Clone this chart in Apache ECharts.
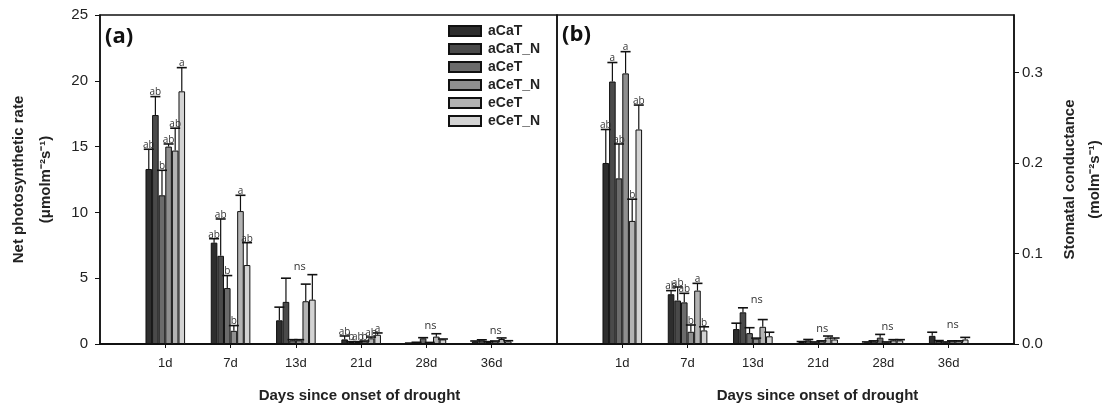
<!DOCTYPE html>
<html>
<head>
<meta charset="utf-8">
<script src="https://cdn.jsdelivr.net/npm/echarts@6/dist/echarts.min.js"></script>
<style>
  html, body { margin: 0; background: #fff; }
  #chart { width: 1114px; height: 408px; }
</style>
</head>
<body>
<div id="chart"></div>
<script>
// sampling days (category axis is padded with an empty slot on both ends)
const days = ['1d', '7d', '13d', '21d', '28d', '36d']
const cats = [''].concat(days, [' '])
const treatments = ['aCaT', 'aCaT_N', 'aCeT', 'aCeT_N', 'eCeT', 'eCeT_N']
const fills = ['#2e2e2e', '#4a4a4a', '#6b6b6b', '#8f8f8f', '#b3b3b3', '#d3d3d3']

// (a) net photosynthetic rate, rows = treatments, cols = days
const pnMean = [
  [13.3, 7.7, 1.8, 0.35, 0.05, 0.2],
  [17.4, 6.7, 3.2, 0.15, 0.1, 0.28],
  [11.3, 4.25, 0.28, 0.15, 0.43, 0.15],
  [15.0, 1.0, 0.28, 0.2, 0.1, 0.2],
  [14.7, 10.1, 3.25, 0.43, 0.56, 0.38],
  [19.2, 6.0, 3.37, 0.7, 0.35, 0.2]
]
const pnSE = [
  [1.5, 0.3, 1.0, 0.26, 0.02, 0.03],
  [1.4, 2.8, 1.8, 0.03, 0.03, 0.04],
  [1.9, 0.95, 0.05, 0.03, 0.05, 0.03],
  [0.2, 0.4, 0.05, 0.03, 0.02, 0.03],
  [1.7, 1.2, 1.3, 0.1, 0.22, 0.08],
  [1.8, 1.7, 1.9, 0.14, 0.03, 0.05]
]
// (b) stomatal conductance
const gsMean = [
  [0.200, 0.055, 0.0165, 0.0022, 0.0018, 0.009],
  [0.290, 0.048, 0.035, 0.004, 0.003, 0.0033],
  [0.183, 0.046, 0.012, 0.0018, 0.007, 0.0018],
  [0.299, 0.0135, 0.006, 0.003, 0.0018, 0.003],
  [0.136, 0.059, 0.019, 0.007, 0.004, 0.003],
  [0.237, 0.015, 0.0085, 0.005, 0.004, 0.005]
]
const gsSE = [
  [0.037, 0.004, 0.0065, 0.0005, 0.0005, 0.004],
  [0.021, 0.015, 0.005, 0.001, 0.0005, 0.0005],
  [0.038, 0.010, 0.006, 0.0005, 0.0036, 0.0005],
  [0.024, 0.0075, 0.0005, 0.0005, 0.0005, 0.0005],
  [0.024, 0.008, 0.008, 0.0018, 0.0008, 0.0005],
  [0.027, 0.004, 0.0045, 0.0016, 0.0008, 0.0023]
]
// significance letters per day ('ns' = one label for the whole group)
const pnLetters = [
  ['ab', 'ab', 'b', 'ab', 'ab', 'a'],
  ['ab', 'ab', 'b', 'b', 'a', 'ab'],
  'ns',
  ['ab', 'b', 'ab', 'b', 'ab', 'a'],
  'ns',
  'ns'
]
const gsLetters = [
  ['ab', 'a', 'ab', 'a', 'b', 'ab'],
  ['ab', 'ab', 'ab', 'b', 'a', 'b'],
  'ns', 'ns', 'ns', 'ns'
]

const BAR_W = 6.6
const txt = '#222'

const chart = echarts.init(document.getElementById('chart'), null, { renderer: 'canvas' })

// bars of one panel
const barSeries = (means, axis) => means.map((row, t) => ({
  name: treatments[t],
  type: 'bar',
  xAxisIndex: axis,
  yAxisIndex: axis,
  barWidth: BAR_W,
  barGap: '0%',
  itemStyle: { color: fills[t], borderColor: '#111', borderWidth: 1 },
  data: row.map((v, d) => [d + 1, v])
}))

// upper error bars + letters for one panel
const errSeries = (means, ses, letters, axis) => {
  const data = []
  const labels = []
  means.forEach((row, t) => row.forEach((v, d) => {
    data.push([d + 1, v, ses[t][d], t])
    labels.push(Array.isArray(letters[d]) ? letters[d][t] : '')
  }))
  return {
    type: 'custom',
    xAxisIndex: axis,
    yAxisIndex: axis,
    z: 3,
    silent: true,
    encode: { x: 0, y: 1 },
    data: data,
    renderItem: (params, api) => {
      const idx = api.value(0)
      const m = api.value(1)
      const base = api.coord([idx, m])
      const top = api.coord([idx, m + api.value(2)])
      const x = base[0] + (api.value(3) - 2.5) * BAR_W
      return {
        type: 'group',
        children: [
          { type: 'line', shape: { x1: x, y1: base[1], x2: x, y2: top[1] }, style: { stroke: '#111', lineWidth: 1.2 } },
          { type: 'line', shape: { x1: x - 5, y1: top[1], x2: x + 5, y2: top[1] }, style: { stroke: '#111', lineWidth: 1.6 } },
          { type: 'text', x: x, y: top[1] + 1, style: { text: labels[params.dataIndex], fill: '#333', font: '10px "Open Sans"', align: 'center', verticalAlign: 'bottom' } }
        ]
      }
    }
  }
}

// 'ns' labels above whole groups
const nsSeries = (means, ses, letters, axis) => {
  const data = []
  letters.forEach((l, d) => {
    if (l === 'ns') data.push([d + 1, Math.max(...means.map((row, t) => row[d] + ses[t][d]))])
  })
  return {
    type: 'custom',
    xAxisIndex: axis,
    yAxisIndex: axis,
    z: 3,
    silent: true,
    encode: { x: 0, y: 1 },
    data: data,
    renderItem: (params, api) => {
      const p = api.coord([api.value(0), api.value(1)])
      return { type: 'text', x: p[0] + 4, y: p[1] - 2, style: { text: 'ns', fill: '#333', font: '11px "Open Sans"', align: 'center', verticalAlign: 'bottom' } }
    }
  }
}

const xAxisBase = (idx, pad) => ({
  type: 'category',
  gridIndex: idx,
  data: cats,
  boundaryGap: false,
  axisLine: { lineStyle: { color: '#111', width: 2 } },
  axisTick: { length: 4, interval: (i) => i > 0 && i < cats.length - 1, lineStyle: { color: '#111' } },
  axisLabel: { interval: 0, margin: 13, fontSize: 13, color: txt, fontFamily: 'Liberation Sans' },
  splitLine: { show: false },
  name: 'Days since onset of drought',
  nameLocation: 'middle',
  nameGap: 44,
  nameTextStyle: { fontWeight: 'bold', fontSize: 15, color: txt, fontFamily: 'Liberation Sans', padding: [0, 0, 0, pad] }
})

const option = {
  animation: false,
  backgroundColor: '#fff',
  grid: [
    { left: 100, top: 15, width: 457, height: 329, show: true, borderColor: '#111', borderWidth: 1.5 },
    { left: 557, top: 15, width: 457, height: 329, show: true, borderColor: '#111', borderWidth: 1.5 }
  ],
  legend: {
    data: treatments,
    orient: 'vertical',
    left: 448,
    top: 23,
    padding: 0,
    itemWidth: 32,
    itemHeight: 10,
    itemGap: 2,
    icon: 'rect',
    selectedMode: false,
    textStyle: { fontWeight: 'bold', fontSize: 14, color: txt, fontFamily: 'Liberation Sans', lineHeight: 16, padding: [0, 0, 0, 2] }
  },
  xAxis: [xAxisBase(0, 62), xAxisBase(1, 64)],
  yAxis: [
    {
      type: 'value', gridIndex: 0, min: 0, max: 25, interval: 5,
      axisLine: { show: true, lineStyle: { color: '#111', width: 1.5 } },
      axisTick: { show: true, length: 5, lineStyle: { color: '#111' } },
      axisLabel: { margin: 12, fontSize: 15, color: txt, fontFamily: 'Liberation Sans' },
      splitLine: { show: false },
      name: 'Net photosynthetic rate\n(\u03bcmolm\u207b\u00b2s\u207b\u00b9)',
      nameLocation: 'middle', nameRotate: 90, nameGap: 41,
      nameTextStyle: { fontWeight: 'bold', fontSize: 15, color: txt, fontFamily: 'Liberation Sans', lineHeight: 27 }
    },
    {
      type: 'value', gridIndex: 1, position: 'right', min: 0, max: 0.3635, interval: 0.1,
      axisLine: { show: true, lineStyle: { color: '#111', width: 1.5 } },
      axisTick: { show: true, length: 5, lineStyle: { color: '#111' } },
      axisLabel: { margin: 8, fontSize: 15, color: txt, fontFamily: 'Liberation Sans', showMaxLabel: false, formatter: (v) => v.toFixed(1) },
      splitLine: { show: false },
      name: 'Stomatal conductance\n(molm\u207b\u00b2s\u207b\u00b9)',
      nameLocation: 'middle', nameRotate: 90, nameGap: 43,
      nameTextStyle: { fontWeight: 'bold', fontSize: 15, color: txt, fontFamily: 'Liberation Sans', lineHeight: 25 }
    }
  ],
  graphic: [
    { type: 'text', left: 105, top: 26, style: { text: '(a)', font: 'bold 22px "Open Sans"', fill: '#111' } },
    { type: 'text', left: 562, top: 24, style: { text: '(b)', font: 'bold 22px "Open Sans"', fill: '#111' } }
  ],
  series: [].concat(
    barSeries(pnMean, 0),
    barSeries(gsMean, 1),
    [errSeries(pnMean, pnSE, pnLetters, 0), nsSeries(pnMean, pnSE, pnLetters, 0),
     errSeries(gsMean, gsSE, gsLetters, 1), nsSeries(gsMean, gsSE, gsLetters, 1)]
  )
}

chart.setOption(option)
</script>
</body>
</html>
